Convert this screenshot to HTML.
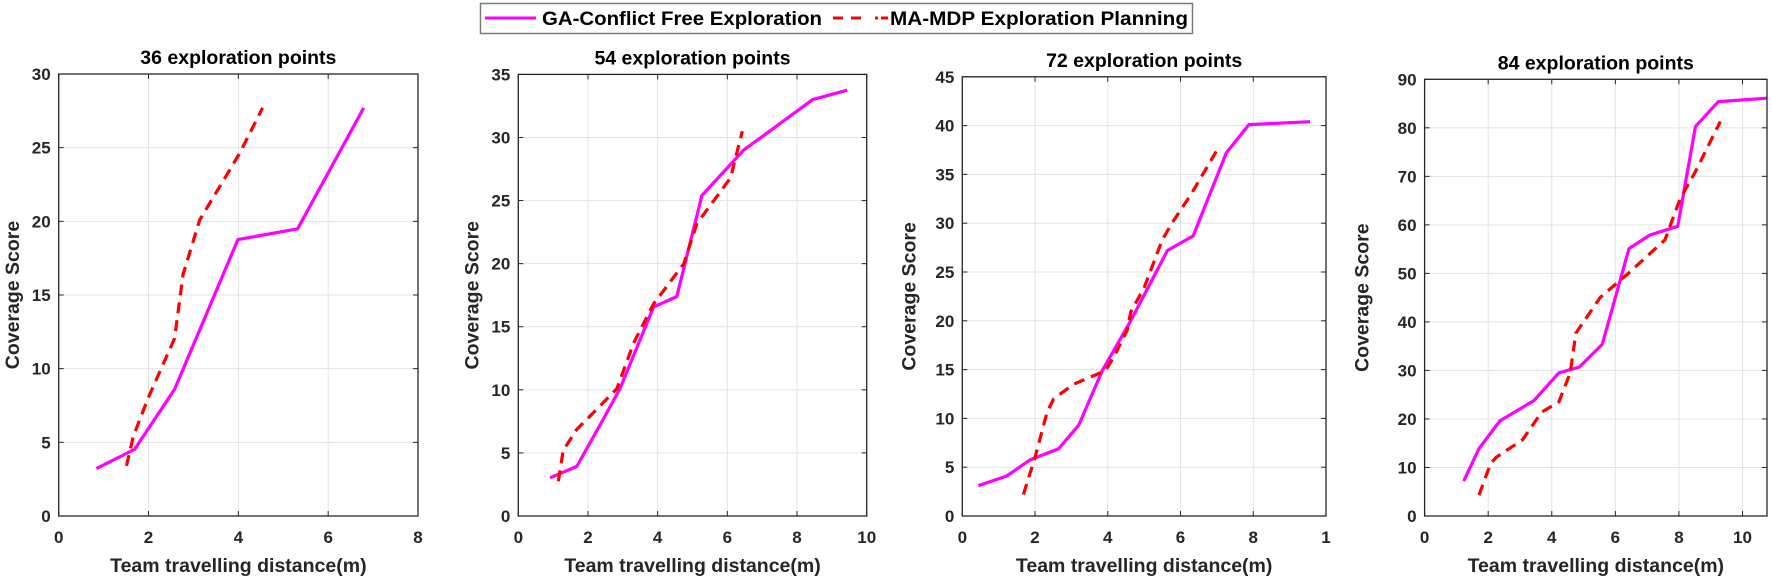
<!DOCTYPE html>
<html><head><meta charset="utf-8"><style>
html,body{margin:0;padding:0;background:#fff;}
svg{display:block;font-family:"Liberation Sans",Arial,sans-serif;}
</style></head><body>
<svg id="fig" width="1772" height="581" viewBox="0 0 1772 581" xmlns="http://www.w3.org/2000/svg">
<g>
<rect x="480.5" y="3.5" width="712" height="30" fill="#fff" stroke="#7a7a7a" stroke-width="1.5"/>
<line x1="485" y1="18" x2="536" y2="18" stroke="#ff00ff" stroke-width="3"/>
<text x="542" y="25" font-size="19" font-weight="bold" fill="#000" textLength="280" lengthAdjust="spacingAndGlyphs">GA-Conflict Free Exploration</text>
<line x1="833" y1="18" x2="888" y2="18" stroke="#ff0000" stroke-width="3" stroke-dasharray="10,8,10,14,3,3"/>
<text x="890" y="25" font-size="19" font-weight="bold" fill="#000" textLength="298" lengthAdjust="spacingAndGlyphs">MA-MDP Exploration Planning</text>
</g>
</svg>
<script>
// ---- chart data ----
const titles = ["36 exploration points","54 exploration points","72 exploration points","84 exploration points"];
const xMax = [8, 10, 10, 10.77];
const yMax = [30, 35, 45, 90];
const xTicks1 = [0,2,4,6,8];
const xTicks2 = [0,2,4,6,8,10];
const xTicks3 = [0,2,4,6,8,10];
const xTicks4 = [0,2,4,6,8,10];
const xTickLabels3 = ["0","2","4","6","8","1"];
const yTicks1 = [0,5,10,15,20,25,30];
const yTicks2 = [0,5,10,15,20,25,30,35];
const yTicks3 = [0,5,10,15,20,25,30,35,40,45];
const yTicks4 = [0,10,20,30,40,50,60,70,80,90];

const gaX1 = [0.84,1.69,2.58,3.99,5.32,6.79];
const gaY1 = [3.22,4.53,8.6,18.76,19.49,27.7];
const mdpX1 = [1.51,1.66,1.99,2.58,2.77,3.14,4.02,4.54];
const mdpY1 = [3.4,5.4,8.0,12.06,16.4,20.1,24.56,27.7];

const gaX2 = [0.91,1.68,2.44,2.92,3.88,4.55,5.27,6.47,8.45,9.44];
const gaY2 = [3.03,3.93,7.68,10.1,16.56,17.4,25.4,29.0,33.0,33.75];
const mdpX2 = [1.15,1.29,1.68,2.16,2.83,3.31,3.88,4.75,5.13,5.8,6.09,6.43];
const mdpY2 = [2.76,5.2,6.86,8.2,10.1,13.7,16.8,20.0,23.2,25.7,26.8,30.5];

const gaX3 = [0.44,1.22,1.87,2.65,3.2,3.85,4.63,5.64,6.35,7.26,7.88,9.56];
const gaY3 = [3.1,4.1,5.76,6.9,9.3,14.9,20.0,27.2,28.7,37.2,40.1,40.4];
const mdpX3 = [1.68,2.0,2.33,2.51,3.06,3.94,4.21,4.54,4.63,5.0,5.5,5.78,6.28,6.99];
const mdpY3 = [2.2,6.0,10.6,12.0,13.5,14.9,16.6,19.1,20.9,23.4,28.3,30.1,32.9,37.4];

const gaX4 = [1.23,1.71,2.37,3.44,4.22,4.87,5.59,6.43,7.08,7.96,8.52,9.24,10.77];
const gaY4 = [7.2,13.9,19.6,23.8,29.5,30.7,35.4,55.1,57.9,59.7,80.3,85.4,86.1];
const mdpX4 = [1.71,2.07,2.25,3.08,3.68,4.22,4.58,4.76,5.53,6.37,7.56,8.04,8.52,9.3];
const mdpY4 = [4.3,10.7,12.1,15.7,21.4,23.5,29.5,37.7,45.1,49.8,56.9,65.4,71.0,81.3];

// ---- layout ----
const boxes = [
  {l:58.7, r:418, t:74, b:516, yl:12},
  {l:518.3, r:866.7, t:74.4, b:516, yl:471.7},
  {l:962.3, r:1326, t:76.8, b:516, yl:908.3},
  {l:1424.6, r:1767, t:79.3, b:516, yl:1361.7}
];
const allXT = [xTicks1,xTicks2,xTicks3,xTicks4];
const allYT = [yTicks1,yTicks2,yTicks3,yTicks4];
const allGA = [[gaX1,gaY1],[gaX2,gaY2],[gaX3,gaY3],[gaX4,gaY4]];
const allMDP = [[mdpX1,mdpY1],[mdpX2,mdpY2],[mdpX3,mdpY3],[mdpX4,mdpY4]];
const NS = "http://www.w3.org/2000/svg";
const svg = document.getElementById("fig");
function mk(tag, attrs, parent){
  const e = document.createElementNS(NS, tag);
  for (const k in attrs) e.setAttribute(k, attrs[k]);
  parent.appendChild(e);
  return e;
}
for (let i=0;i<4;i++){
  const B = boxes[i];
  const sx = v => B.l + v/xMax[i]*(B.r-B.l);
  const sy = v => B.b - v/yMax[i]*(B.b-B.t);
  const g = mk("g", {}, svg);
  
  
  mk("rect", {x:B.l, y:B.t, width:B.r-B.l, height:B.b-B.t, fill:"#fff"}, g);
  // grid
  allXT[i].forEach((v,k)=>{
    const x = sx(v);
    const gl = mk("line", {x1:x, x2:x, y1:B.t, y2:B.b, stroke:"#e3e3e3", "stroke-width":1}, g);
    
    
    mk("line", {x1:x, x2:x, y1:B.b, y2:B.b-5, stroke:"#262626", "stroke-width":1}, g);
    mk("line", {x1:x, x2:x, y1:B.t, y2:B.t+5, stroke:"#262626", "stroke-width":1}, g);
    const lbl = (i===2) ? xTickLabels3[k] : String(v);
    const t = mk("text", {x:x, y:543, "text-anchor":"middle", "font-size":17, "font-weight":"bold", fill:"#262626"}, g);
    t.textContent = lbl;
    
    
  });
  allYT[i].forEach(v=>{
    const y = sy(v);
    const gl = mk("line", {x1:B.l, x2:B.r, y1:y, y2:y, stroke:"#e3e3e3", "stroke-width":1}, g);
    
    
    mk("line", {x1:B.l, x2:B.l+5, y1:y, y2:y, stroke:"#262626", "stroke-width":1}, g);
    mk("line", {x1:B.r, x2:B.r-5, y1:y, y2:y, stroke:"#262626", "stroke-width":1}, g);
    const t = mk("text", {x:B.l-8, y:y+6, "text-anchor":"end", "font-size":17, "font-weight":"bold", fill:"#262626"}, g);
    t.textContent = String(v);
    
    
  });
  // clip
  const cp = mk("clipPath", {id:"clip"+i}, g);
  mk("rect", {x:B.l, y:B.t, width:B.r-B.l, height:B.b-B.t}, cp);
  const [gx, gy] = allGA[i];
  const [mx, my] = allMDP[i];
  const gaPts = gx.map((v,k)=>sx(v).toFixed(1)+","+sy(gy[k]).toFixed(1)).join(" ");
  const mdPts = mx.map((v,k)=>sx(v).toFixed(1)+","+sy(my[k]).toFixed(1)).join(" ");
  const l1 = mk("polyline", {points:gaPts, fill:"none", stroke:"#ff00ff", "stroke-width":3.2, "stroke-linejoin":"round", "clip-path":"url(#clip"+i+")"}, g);
  
  
  const l2 = mk("polyline", {points:mdPts, fill:"none", stroke:"#ff0000", "stroke-width":3.2, "stroke-dasharray":"11,7", "clip-path":"url(#clip"+i+")"}, g);
  
  
  // box
  const bx = mk("rect", {x:B.l, y:B.t, width:B.r-B.l, height:B.b-B.t, fill:"none", stroke:"#262626", "stroke-width":1.3}, g);
  
  
  // title
  const tt = mk("text", {x:(B.l+B.r)/2, y:B.t-10, "text-anchor":"middle", "font-size":19.5, "font-weight":"bold", fill:"#000"}, g);
  tt.textContent = titles[i];
  
  
  const xl = mk("text", {x:(B.l+B.r)/2, y:572, "text-anchor":"middle", "font-size":19.5, "font-weight":"bold", fill:"#262626"}, g);
  xl.textContent = "Team travelling distance(m)";
  
  
  const yc = (B.t+B.b)/2;
  const yl = mk("text", {x:B.yl+7, y:yc, "text-anchor":"middle", "font-size":19.5, "font-weight":"bold", fill:"#262626", transform:"rotate(-90 "+(B.yl+7)+" "+yc+")"}, g);
  yl.textContent = "Coverage Score";
  
  
}
</script>
</body></html>
